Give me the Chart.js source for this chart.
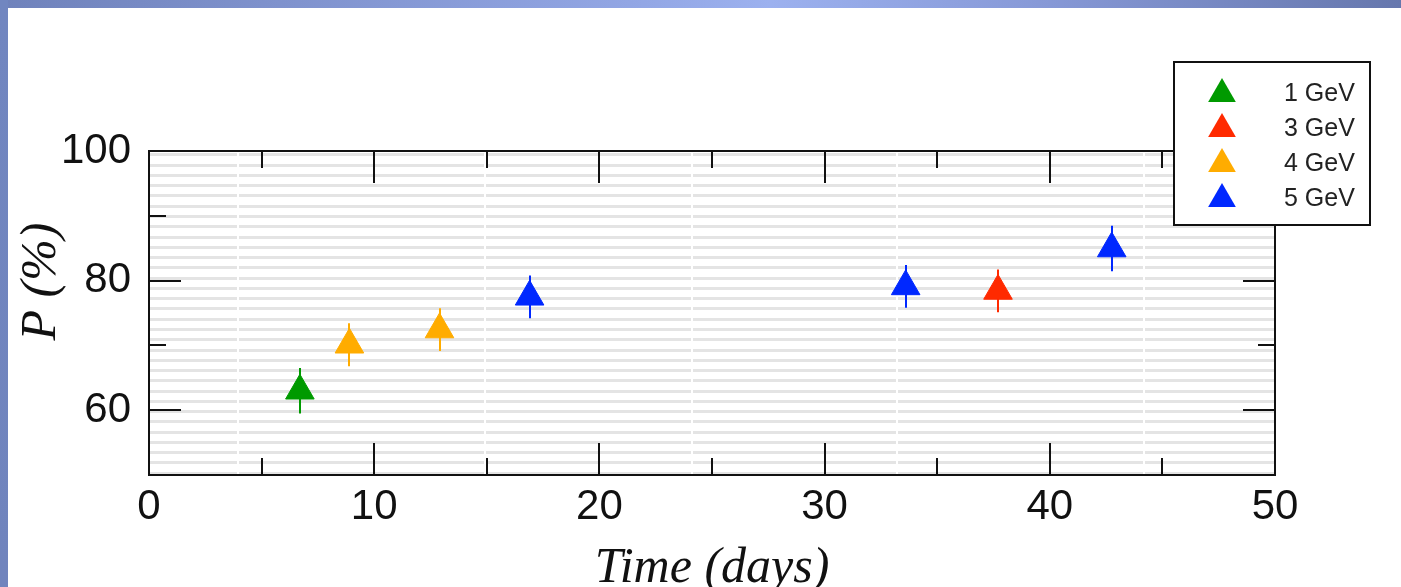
<!DOCTYPE html>
<html>
<head>
<meta charset="utf-8">
<script src="https://cdn.jsdelivr.net/npm/chart.js@4.4.1/dist/chart.umd.min.js"></script>
<style>
  html, body { margin: 0; padding: 0; overflow: hidden; background: #fff; }
  #wrap { position: relative; width: 1401px; height: 587px; background: #fff; }
  #topStrip { position: absolute; left: 0; top: 0; width: 1401px; height: 8px;
    background: linear-gradient(90deg, #6f82bb 0%, #7f92cd 20%, #92a6e4 45%, #9cb1ef 55%, #8698d6 75%, #6677ad 100%); }
  #leftStrip { position: absolute; left: 0; top: 0; width: 8px; height: 587px;
    background: linear-gradient(180deg, #7186c0 0%, #7084bd 100%); }
  #chart { position: absolute; left: 0; top: 0; }
</style>
</head>
<body>
<div id="wrap">
  <div id="topStrip"></div>
  <div id="leftStrip"></div>
  <canvas id="chart" width="1401" height="587"></canvas>
</div>
<script>
// series: energy label, days, polarisation (%), error (%)
const labels = ['1 GeV', '3 GeV', '4 GeV', '5 GeV'];
const colors = ['#009a00', '#ff2a00', '#ffac00', '#0028ff'];

const days1 = [6.7];
const pol1 = [63.0];
const err1 = [3.5];

const days3 = [37.7];
const pol3 = [78.4];
const err3 = [3.3];

const days4 = [8.9, 12.9];
const pol4 = [70.1, 72.45];
const err4 = [3.3, 3.3];

const days5 = [16.9, 33.6, 42.75];
const pol5 = [77.5, 79.1, 84.95];
const err5 = [3.3, 3.3, 3.5];

const xTickLabels = [0, 10, 20, 30, 40, 50];
const yTickLabels = [60, 80, 100];
const xMajor = [10, 20, 30, 40];
const xMinor = [5, 15, 25, 35, 45];
const yMajor = [60, 80];
const yMinor = [70, 90];

// faint artefacts of the scanned background
const xGapDays = [3.95, 14.9, 24.1, 33.2, 44.2];

const seriesX = [days1, days3, days4, days5];
const seriesY = [pol1, pol3, pol4, pol5];
const seriesErr = [err1, err3, err4, err5];

const datasets = labels.map((lab, i) => ({
  label: lab,
  data: seriesX[i].map((d, j) => ({ x: d, y: seriesY[i][j] })),
  errors: seriesErr[i],
  pointStyle: 'triangle',
  pointRadius: 16.5,
  backgroundColor: colors[i],
  borderColor: colors[i],
  borderWidth: 1,
  showLine: false
}));

function triangle(ctx, x, y, r) {
  ctx.beginPath();
  for (let k = 0; k < 3; k++) {
    const a = k * 2 * Math.PI / 3;
    const px = x + Math.sin(a) * r;
    const py = y - Math.cos(a) * r;
    if (k === 0) ctx.moveTo(px, py); else ctx.lineTo(px, py);
  }
  ctx.closePath();
  ctx.fill();
}

const decorPlugin = {
  id: 'decor',
  beforeDatasetsDraw(chart) {
    // vertical error bars
    const ctx = chart.ctx, xs = chart.scales.x, ys = chart.scales.y;
    ctx.save();
    ctx.lineWidth = 2;
    chart.data.datasets.forEach(ds => {
      ctx.strokeStyle = ds.borderColor;
      ds.data.forEach((p, j) => {
        const px = Math.round(xs.getPixelForValue(p.x));
        ctx.beginPath();
        ctx.moveTo(px, ys.getPixelForValue(p.y - ds.errors[j]));
        ctx.lineTo(px, ys.getPixelForValue(p.y + ds.errors[j]));
        ctx.stroke();
      });
    });
    ctx.restore();
  },
  afterDraw(chart) {
    const ctx = chart.ctx, a = chart.chartArea;
    const xs = chart.scales.x, ys = chart.scales.y;
    ctx.save();
    ctx.strokeStyle = '#111';
    ctx.lineWidth = 2;
    // inward ticks on all four sides
    const xt = (v, len) => {
      const px = Math.round(xs.getPixelForValue(v));
      ctx.beginPath();
      ctx.moveTo(px, a.bottom); ctx.lineTo(px, a.bottom - len);
      ctx.moveTo(px, a.top); ctx.lineTo(px, a.top + len);
      ctx.stroke();
    };
    const yt = (v, len) => {
      const py = Math.round(ys.getPixelForValue(v));
      ctx.beginPath();
      ctx.moveTo(a.left, py); ctx.lineTo(a.left + len, py);
      ctx.moveTo(a.right, py); ctx.lineTo(a.right - len, py);
      ctx.stroke();
    };
    xMajor.forEach(v => xt(v, 32));
    xMinor.forEach(v => xt(v, 17));
    yMajor.forEach(v => yt(v, 32));
    yMinor.forEach(v => yt(v, 17));
    ctx.strokeRect(a.left, a.top, a.right - a.left, a.bottom - a.top);

    // axis titles
    ctx.fillStyle = '#111';
    ctx.font = 'italic 50px "Liberation Serif", "Times New Roman", serif';
    ctx.textAlign = 'center';
    ctx.textBaseline = 'alphabetic';
    ctx.fillText('Time (days)', (a.left + a.right) / 2, 582);
    ctx.save();
    ctx.translate(55, 281.5);
    ctx.rotate(-Math.PI / 2);
    ctx.fillText('P (%)', 0, 0);
    ctx.restore();

    // legend box over the top right corner
    ctx.fillStyle = '#fff';
    ctx.fillRect(1174, 62, 196, 163);
    ctx.strokeRect(1174, 62, 196, 163);
    ctx.font = '25px "Liberation Sans", Arial, sans-serif';
    ctx.textAlign = 'left';
    ctx.textBaseline = 'middle';
    chart.data.datasets.forEach((ds, i) => {
      const cy = 94 + i * 35;
      ctx.fillStyle = ds.backgroundColor;
      triangle(ctx, 1222, cy, 16);
      ctx.fillStyle = '#222';
      ctx.fillText(ds.label, 1284, cy);
    });
    ctx.restore();
  }
};

new Chart(document.getElementById('chart'), {
  type: 'scatter',
  data: { datasets: datasets },
  plugins: [decorPlugin],
  options: {
    responsive: false,
    animation: false,
    events: [],
    layout: { padding: { left: 9, top: 151, right: 126, bottom: 0 } },
    plugins: { legend: { display: false }, tooltip: { enabled: false } },
    scales: {
      x: {
        type: 'linear', min: 0, max: 50,
        afterFit: s => { s.height = 112; },
        afterBuildTicks: s => { s.ticks = xTickLabels.map(v => ({ value: v })); },
        grid: { display: false, drawTicks: false },
        border: { display: false },
        ticks: { padding: 7, color: '#111', font: { family: '"Liberation Sans", Arial, sans-serif', size: 42 } }
      },
      y: {
        type: 'linear', min: 50, max: 100,
        afterFit: s => { s.width = 140; },
        afterBuildTicks: s => { s.ticks = yTickLabels.map(v => ({ value: v })); },
        grid: { display: false, drawTicks: false },
        border: { display: false },
        ticks: { padding: 18, color: '#111', font: { family: '"Liberation Sans", Arial, sans-serif', size: 42 } }
      },
      // grey horizontal stripes of the plot background
      yg: {
        type: 'linear', position: 'left', min: 0.83, max: 32.38, z: -2,
        afterFit: s => { s.width = 0; },
        afterBuildTicks: s => {
          const t = [];
          for (let k = 1; k <= 32; k++) t.push({ value: k });
          s.ticks = t;
        },
        grid: { color: '#e4e4e4', lineWidth: 3, drawTicks: false },
        border: { display: false },
        ticks: { display: false }
      },
      xg: {
        type: 'linear', position: 'bottom', min: 0, max: 50, z: -1,
        afterFit: s => { s.height = 0; },
        afterBuildTicks: s => { s.ticks = xGapDays.map(v => ({ value: v })); },
        grid: { color: '#ffffff', lineWidth: 2, drawTicks: false },
        border: { display: false },
        ticks: { display: false }
      }
    }
  }
});
</script>
</body>
</html>
